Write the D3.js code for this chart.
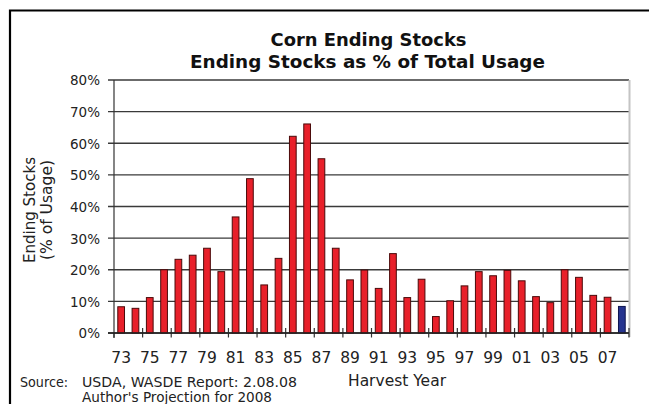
<!DOCTYPE html>
<html><head><meta charset="utf-8">
<script src="https://cdn.jsdelivr.net/npm/d3@7"></script>
<style>body{margin:0;background:#fff;}svg{display:block;}</style>
</head><body>
<svg id="c" width="649" height="404"></svg>
<script>
const years = ["73","74","75","76","77","78","79","80","81","82","83","84","85","86","87","88","89","90","91","92","93","94","95","96","97","98","99","00","01","02","03","04","05","06","07","08"];
const stocksPct = [8.3,7.8,11.2,20.0,23.3,24.6,26.8,19.4,36.7,48.8,15.2,23.6,62.2,66.1,55.1,26.8,16.8,19.9,14.1,25.1,11.2,17.0,5.2,10.2,14.9,19.4,18.1,19.8,16.5,11.5,9.6,20.0,17.6,11.9,11.3,8.4];
const projected = ["08"];
const yTicks = [0,10,20,30,40,50,60,70,80];
const xLabels = years.filter((d,i)=>i%2===0);
const titleLines = ["Corn Ending Stocks","Ending Stocks as % of Total Usage"];

const svg = d3.select("#c");
const FONT = "'DejaVu Sans', Verdana, sans-serif";
const L=114, R=629, T=80, B=333;

// frame
svg.append("path").attr("d","M10,404 V10.5 H649").attr("fill","none").attr("stroke","#000").attr("stroke-width",2.2);

const x = d3.scaleBand().domain(years).range([L,R]).paddingInner(0.53).paddingOuter(0.265);
const y = d3.scaleLinear().domain([0,80]).range([B,T]);

// gridlines
svg.append("g").selectAll("line").data(yTicks).join("line")
  .attr("x1",L-6).attr("x2",R).attr("y1",d=>y(d)).attr("y2",d=>y(d))
  .attr("stroke","#3a3a3a").attr("stroke-width",1.3);
// right border
svg.append("line").attr("x1",R+0.5).attr("x2",R+0.5).attr("y1",T).attr("y2",B+4)
  .attr("stroke","#c4c4c4").attr("stroke-width",2);
// left axis
svg.append("line").attr("x1",L).attr("x2",L).attr("y1",T).attr("y2",B+5)
  .attr("stroke","#333").attr("stroke-width",1.2);

// y tick labels
const yAxis = d3.axisLeft(y).tickValues(yTicks).tickFormat(d=>d+"%").tickSize(0).tickPadding(14);
const ga = svg.append("g").attr("transform",`translate(${L},0)`).call(yAxis);
ga.select(".domain").remove();
ga.selectAll("text").attr("font-family",FONT).attr("font-size",13.5).attr("fill","#222").attr("dy","0.36em");

// bars
svg.append("g").selectAll("rect").data(years.map((d,i)=>({yr:d,v:stocksPct[i]}))).join("rect")
  .attr("x",d=>x(d.yr)).attr("width",x.bandwidth())
  .attr("y",d=>y(d.v)).attr("height",d=>B-y(d.v))
  .attr("fill",d=>projected.includes(d.yr)?"#26348f":"#e8202a")
  .attr("stroke",d=>projected.includes(d.yr)?"#0e1550":"#4a0a0a").attr("stroke-width",1);

// x axis ticks (every other band boundary)
const step = x.step();
const tickIdx = d3.range(0, years.length+1, 2);
svg.append("g").selectAll("line").data(tickIdx).join("line")
  .attr("x1",k=>L+k*step).attr("x2",k=>L+k*step)
  .attr("y1",k=>k===0?B:B-5).attr("y2",B+4.5)
  .attr("stroke","#333").attr("stroke-width",1.2);
// baseline
svg.append("line").attr("x1",L-6).attr("x2",R).attr("y1",B).attr("y2",B).attr("stroke","#222").attr("stroke-width",1.5);

// x labels
svg.append("g").selectAll("text").data(xLabels).join("text")
  .attr("x",d=>x(d)+x.bandwidth()/2).attr("y",363)
  .attr("text-anchor","middle").attr("font-family",FONT).attr("font-size",15.5).attr("fill","#222").text(d=>d);

// titles
svg.append("text").attr("x",368.5).attr("y",46).attr("text-anchor","middle")
  .attr("font-family",FONT).attr("font-weight","bold").attr("font-size",17).attr("fill","#111")
  .attr("textLength",196).attr("lengthAdjust","spacingAndGlyphs").text(titleLines[0]);
svg.append("text").attr("x",367.5).attr("y",67.5).attr("text-anchor","middle")
  .attr("font-family",FONT).attr("font-weight","bold").attr("font-size",17).attr("fill","#111")
  .attr("textLength",355).attr("lengthAdjust","spacingAndGlyphs").text(titleLines[1]);

// y axis title
const yt = svg.append("text").attr("transform","translate(0,210) rotate(-90)").attr("text-anchor","middle")
  .attr("font-family",FONT).attr("font-size",15).attr("fill","#222");
yt.append("tspan").attr("x",0).attr("y",35).attr("textLength",106).attr("lengthAdjust","spacingAndGlyphs").text("Ending Stocks");
yt.append("tspan").attr("x",0).attr("y",52).attr("textLength",100).attr("lengthAdjust","spacingAndGlyphs").text("(% of Usage)");

// x axis title
svg.append("text").attr("x",397).attr("y",386).attr("text-anchor","middle")
  .attr("font-family",FONT).attr("font-size",15).attr("fill","#222")
  .attr("textLength",98).attr("lengthAdjust","spacingAndGlyphs").text("Harvest Year");

// source
const src = svg.append("g").attr("font-family",FONT).attr("font-size",13.5).attr("fill","#222");
src.append("text").attr("x",20).attr("y",387).attr("textLength",48).attr("lengthAdjust","spacingAndGlyphs").text("Source:");
src.append("text").attr("x",82).attr("y",387).attr("textLength",215).attr("lengthAdjust","spacingAndGlyphs").text("USDA, WASDE Report: 2.08.08");
src.append("text").attr("x",82).attr("y",402).attr("textLength",190).attr("lengthAdjust","spacingAndGlyphs").text("Author's Projection for 2008");
</script>
</body></html>
